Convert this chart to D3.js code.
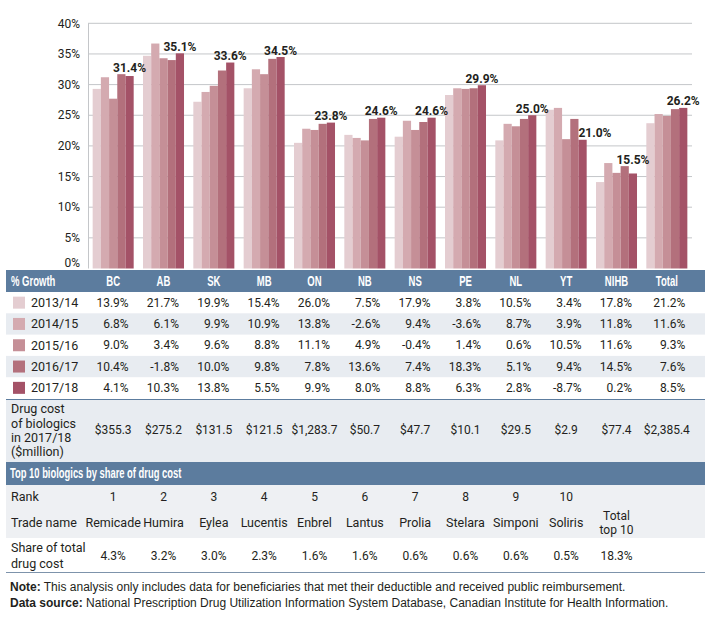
<!DOCTYPE html>
<html>
<head>
<meta charset="utf-8">
<script src="https://cdn.jsdelivr.net/npm/d3@7"></script>
<style>
  body { margin: 0; background: #fff; }
  svg { display: block; }
  text { font-family: Roboto, "DejaVu Sans", sans-serif; fill: #231f20; }
  .hdr { font-family: "Liberation Sans Narrow", "Liberation Sans", Arial, sans-serif; font-weight: bold; fill: #fff; }
  .note { font-family: "Liberation Sans", Arial, sans-serif; }
</style>
</head>
<body>
<svg id="chart" width="716" height="617"></svg>
<script>
// ---------- DATA ----------
const categories = ["BC","AB","SK","MB","ON","NB","NS","PE","NL","YT","NIHB","Total"];
const years = ["2013/14","2014/15","2015/16","2016/17","2017/18"];
// share of drug cost (bars, %)
const share1314 = [29.3,34.7,27.2,29.4,20.5,21.8,21.5,28.3,20.9,25.9,14.1,23.7];
const share1415 = [31.2,36.7,28.8,32.5,22.8,21.3,24.1,29.4,23.6,26.2,17.2,25.2];
const share1516 = [27.7,34.3,29.8,31.7,22.6,20.9,22.6,29.3,23.2,21.1,15.6,24.9];
const share1617 = [31.7,34.0,32.3,34.2,23.6,24.4,23.9,29.4,24.4,24.4,16.7,26.0];
const share1718 = [31.4,35.1,33.6,34.5,23.8,24.6,24.6,29.9,25.0,21.0,15.5,26.2];
// % growth table
const growth1314 = [13.9,21.7,19.9,15.4,26.0,7.5,17.9,3.8,10.5,3.4,17.8,21.2];
const growth1415 = [6.8,6.1,9.9,10.9,13.8,-2.6,9.4,-3.6,8.7,3.9,11.8,11.6];
const growth1516 = [9.0,3.4,9.6,8.8,11.1,4.9,-0.4,1.4,0.6,10.5,11.6,9.3];
const growth1617 = [10.4,-1.8,10.0,9.8,7.8,13.6,7.4,18.3,5.1,9.4,14.5,7.6];
const growth1718 = [4.1,10.3,13.8,5.5,9.9,8.0,8.8,6.3,2.8,-8.7,0.2,8.5];
const drugCost = [355.3,275.2,131.5,121.5,1283.7,50.7,47.7,10.1,29.5,2.9,77.4,2385.4];
// top 10 biologics
const ranks = [1,2,3,4,5,6,7,8,9,10];
const tradeNames = ["Remicade","Humira","Eylea","Lucentis","Enbrel","Lantus","Prolia","Stelara","Simponi","Soliris"];
const topShares = [4.3,3.2,3.0,2.3,1.6,1.6,0.6,0.6,0.6,0.5];
const topTotal = 18.3;
const yTicks = [0,5,10,15,20,25,30,35,40];

const shares = [share1314, share1415, share1516, share1617, share1718];
const growths = [growth1314, growth1415, growth1516, growth1617, growth1718];
const colors = ["#e4cdd1","#d4aab0","#c58f97","#b3707c","#a45267"];

// ---------- LAYOUT ----------
const svg = d3.select("#chart");
const tblL = 6, tblR = 705;
const blue = "#5c7c9e", stripe = "#e8ecf1";

const x0 = d3.scaleBand().domain(categories).range([88, 692]).paddingInner(0.185).paddingOuter(0.0925);
const x1 = d3.scaleBand().domain(years).range([0, x0.bandwidth()]).padding(0);
const y = d3.scaleLinear().domain([0, 40]).range([268.5, 23.3]);
const colC = c => x0(c) + x0.bandwidth() / 2;

function condense(sel, f) {
  sel.each(function () {
    const w = this.getComputedTextLength();
    d3.select(this).attr("textLength", w * f).attr("lengthAdjust", "spacingAndGlyphs");
  });
}

// gridlines
svg.append("g").selectAll("line").data(yTicks.filter(d => d > 0)).join("line")
  .attr("x1", 88).attr("x2", 692)
  .attr("y1", d => y(d)).attr("y2", d => y(d))
  .attr("stroke", "#c4c6c9").attr("stroke-width", 1);
svg.append("line").attr("x1", 88.5).attr("x2", 88.5).attr("y1", y(40)).attr("y2", y(0))
  .attr("stroke", "#c4c6c9");

// y-axis labels
svg.append("g").selectAll("text").data(yTicks).join("text")
  .attr("x", 80).attr("y", d => Math.min(y(d), 263)).attr("dy", "0.35em")
  .attr("text-anchor", "end").style("font-size", "12px").text(d => d + "%");

// bars
const gBars = svg.append("g");
categories.forEach((c, i) => {
  years.forEach((yr, k) => {
    gBars.append("rect")
      .attr("x", x0(c) + x1(yr)).attr("width", x1.bandwidth())
      .attr("y", y(shares[k][i])).attr("height", y(0) - y(shares[k][i]))
      .attr("fill", colors[k]);
  });
  const last = shares[4][i], prev = shares[3][i];
  const lx = x0(c) + x1(years[4]);
  if (prev - last > 2) {
    svg.append("text").attr("x", lx).attr("y", y(last) - 3)
      .style("font-size", "12px").style("font-weight", "bold").text(last.toFixed(1) + "%");
  } else {
    svg.append("text").attr("x", lx + x1.bandwidth() / 2).attr("y", y(Math.max(last, prev)) - 2.5)
      .attr("text-anchor", "middle")
      .style("font-size", "12px").style("font-weight", "bold").text(last.toFixed(1) + "%");
  }
});

// ---------- GROWTH TABLE ----------
svg.append("rect").attr("x", tblL).attr("y", 270).attr("width", tblR - tblL).attr("height", 22).attr("fill", blue);
svg.append("text").attr("class", "hdr").attr("x", 11).attr("y", 281).attr("dy", "0.35em")
  .style("font-size", "14px").text("% Growth").call(condense, 0.68);
svg.append("g").selectAll("text").data(categories).join("text").attr("class", "hdr")
  .attr("x", d => colC(d)).attr("y", 281).attr("dy", "0.35em").attr("text-anchor", "middle")
  .style("font-size", "14px").text(d => d).call(condense, 0.68);

const rowH = 21.3, row0 = 292;
years.forEach((yr, k) => {
  const top = row0 + k * rowH;
  if (k % 2 === 1) {
    svg.append("rect").attr("x", tblL).attr("y", top).attr("width", tblR - tblL).attr("height", rowH).attr("fill", stripe);
  }
  const cy = top + rowH / 2;
  svg.append("rect").attr("x", 13).attr("y", cy - 6).attr("width", 12).attr("height", 12).attr("fill", colors[k]);
  svg.append("text").attr("x", 31).attr("y", cy).attr("dy", "0.35em").style("font-size", "12.5px").text(yr);
  svg.append("g").selectAll("text").data(growths[k]).join("text")
    .attr("x", (d, i) => colC(categories[i]) + (categories[i] === "Total" ? 18.5 : 15.5))
    .attr("y", cy).attr("dy", "0.35em").attr("text-anchor", "end")
    .style("font-size", "12px").text(d => d.toFixed(1) + "%");
});

// drug cost row
svg.append("rect").attr("x", tblL).attr("y", 399.5).attr("width", tblR - tblL).attr("height", 62.5).attr("fill", stripe);
svg.append("line").attr("x1", tblL).attr("x2", tblR).attr("y1", 399.5).attr("y2", 399.5).attr("stroke", blue).attr("stroke-width", 1);
["Drug cost", "of biologics", "in 2017/18", "($million)"].forEach((t, j) => {
  svg.append("text").attr("x", 11).attr("y", 409 + j * 14.3).attr("dy", "0.35em").style("font-size", "12.5px").text(t);
});
svg.append("g").selectAll("text").data(drugCost).join("text")
  .attr("x", (d, i) => colC(categories[i])).attr("y", 430).attr("dy", "0.35em").attr("text-anchor", "middle")
  .style("font-size", "12px").text(d => "$" + d3.format(",.1f")(d));

// ---------- TOP 10 TABLE ----------
svg.append("rect").attr("x", tblL).attr("y", 462).attr("width", tblR - tblL).attr("height", 23).attr("fill", blue);
svg.append("text").attr("class", "hdr").attr("x", 10).attr("y", 473.5).attr("dy", "0.35em")
  .style("font-size", "14px").text("Top 10 biologics by share of drug cost").call(condense, 0.67);
svg.append("rect").attr("x", tblL).attr("y", 485).attr("width", tblR - tblL).attr("height", 53).attr("fill", "#eef0f3");

svg.append("text").attr("x", 11).attr("y", 497).attr("dy", "0.35em").style("font-size", "12.5px").text("Rank");
svg.append("g").selectAll("text").data(ranks).join("text")
  .attr("x", (d, i) => colC(categories[i])).attr("y", 497).attr("dy", "0.35em").attr("text-anchor", "middle")
  .style("font-size", "12px").text(d => d);

svg.append("text").attr("x", 11).attr("y", 523).attr("dy", "0.35em").style("font-size", "12.5px").text("Trade name");
svg.append("g").selectAll("text").data(tradeNames).join("text")
  .attr("x", (d, i) => colC(categories[i])).attr("y", 523).attr("dy", "0.35em").attr("text-anchor", "middle")
  .style("font-size", "12.5px").text(d => d);
["Total", "top 10"].forEach((t, j) => {
  svg.append("text").attr("x", colC(categories[10])).attr("y", 516 + j * 14).attr("dy", "0.35em")
    .attr("text-anchor", "middle").style("font-size", "12px").text(t);
});

["Share of total", "drug cost"].forEach((t, j) => {
  svg.append("text").attr("x", 11).attr("y", 548 + j * 15.5).attr("dy", "0.35em").style("font-size", "12.5px").text(t);
});
svg.append("g").selectAll("text").data(topShares.concat([topTotal])).join("text")
  .attr("x", (d, i) => colC(categories[i])).attr("y", 556).attr("dy", "0.35em").attr("text-anchor", "middle")
  .style("font-size", "12px").text(d => d.toFixed(1) + "%");
svg.append("line").attr("x1", tblL).attr("x2", tblR).attr("y1", 572.5).attr("y2", 572.5).attr("stroke", "#7d93ab").attr("stroke-width", 1);

// ---------- NOTES ----------
const n1 = svg.append("text").attr("class", "note").attr("x", 10).attr("y", 587).attr("dy", "0.35em").style("font-size", "12px");
n1.append("tspan").style("font-weight", "bold").text("Note:");
n1.append("tspan").text(" This analysis only includes data for beneficiaries that met their deductible and received public reimbursement.");
const n2 = svg.append("text").attr("class", "note").attr("x", 10).attr("y", 603).attr("dy", "0.35em").style("font-size", "12px");
n2.append("tspan").style("font-weight", "bold").text("Data source:");
n2.append("tspan").text(" National Prescription Drug Utilization Information System Database, Canadian Institute for Health Information.");
</script>
</body>
</html>
